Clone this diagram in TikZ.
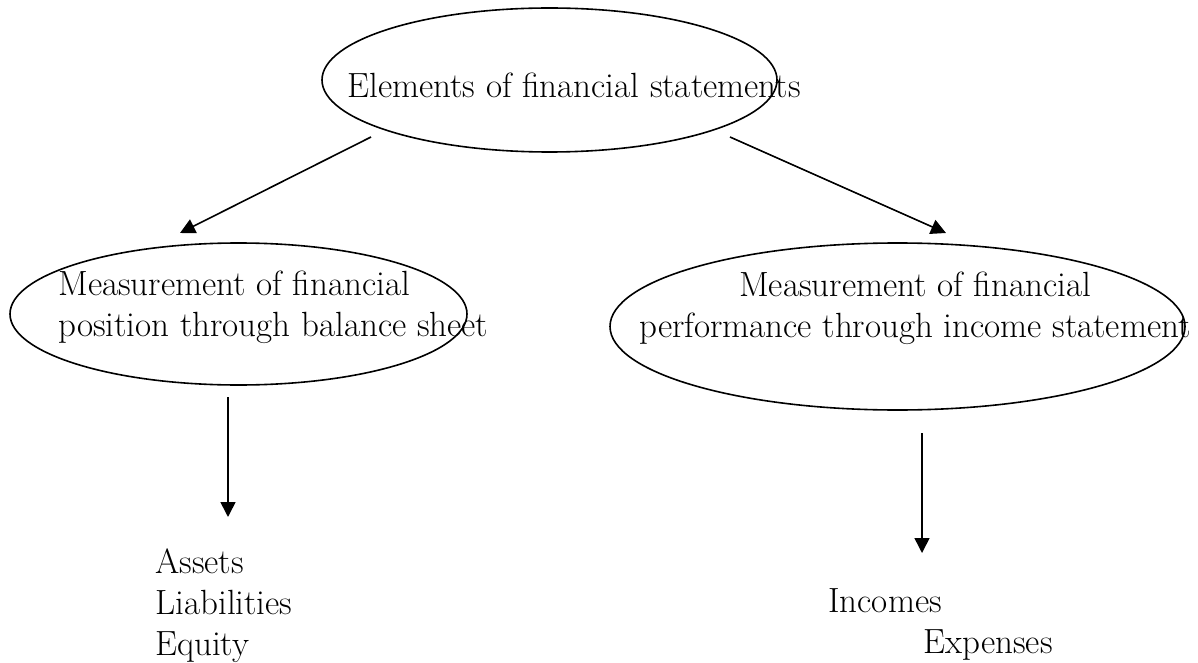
\documentclass[tikz,border=0pt]{standalone}
\usepackage{fontspec}
\usepackage{tikz}
\usetikzlibrary{arrows.meta}
\usetikzlibrary{shapes.geometric}

\begin{document}
\begin{tikzpicture}[x={0.5pt},y={-0.5pt}]

\tikzstyle{element}=[ellipse,draw,line width={0.8pt},inner sep={0pt}]
\tikzstyle{caption}=[inner sep={0pt},font={\fontsize{17.5pt}{20.5pt}\selectfont}]
\tikzset{link/.style={-{Triangle[length=7.5pt,width=7.5pt]},line width={0.8pt}}}

\useasboundingbox (0,0) rectangle (1198,663) ;

% elements: ellipses

\node at (549.5,80)  [element,minimum width={227.5pt},minimum height={72pt}]   (E) {} ;
\node at (238.5,314) [element,minimum width={228.5pt},minimum height={71pt}]   (P) {} ;
\node at (897.5,326.5) [element,minimum width={287.5pt},minimum height={83.5pt}] (F) {} ;

% elements: texts (base = last line)

\node at (347,98)  [caption,anchor={base west}] (Et) {Elements of financial statements} ;
\node at (58,336)  [caption,anchor={base west},align={left}] (Pt) {Measurement of financial\\position through balance sheet} ;
\node at (915,337) [caption,anchor={base},align={center}] (Ft) {Measurement of financial\\performance through income statement} ;

% items: lists

\node at (155,655) [caption,anchor={base west},align={left}] (A) {Assets\\Liabilities\\Equity} ;
\node at (828,653) [caption,anchor={base west},align={left}] (I) {Incomes\\\hspace*{47.5pt}Expenses} ;

% connections: arrows

\draw [link] ([shift={(-178.5,57)}] E.center) -- ([shift={(-58.5,-81)}] P.center) ;
\draw [link] ([shift={(180.5,57)}] E.center)  -- ([shift={(48.5,-93.5)}] F.center) ;

\draw [link] ([shift={(-10.5,83)}] P.center)  -- ([shift={(73,-138)}] A.base west) ;
\draw [link] ([shift={(24.5,106.5)}] F.center) -- ([shift={(94,-100)}] I.base west) ;

\end{tikzpicture}
\end{document}
